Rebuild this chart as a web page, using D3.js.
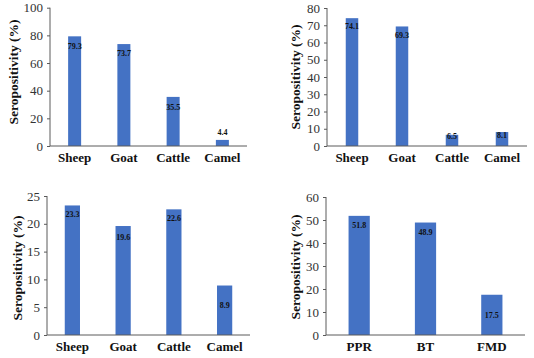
<!DOCTYPE html>
<html><head><meta charset="utf-8">
<script src="https://cdn.jsdelivr.net/npm/d3@7"></script>
<style>body{margin:0;background:#fff}svg{display:block}
svg text{font-family:"Liberation Serif","Times New Roman",Times,serif !important;}</style>
</head><body>
<svg id="c" width="534" height="358"></svg>
<script>
const species = ["Sheep", "Goat", "Cattle", "Camel"];
const diseases = ["PPR", "BT", "FMD"];
const valuesA = [79.3, 73.7, 35.5, 4.4];
const valuesB = [74.1, 69.3, 6.5, 8.1];
const valuesC = [23.3, 19.6, 22.6, 8.9];
const valuesD = [51.8, 48.9, 17.5];
const ticksA = [0, 20, 40, 60, 80, 100];
const ticksB = [0, 10, 20, 30, 40, 50, 60, 70, 80];
const ticksC = [0, 5, 10, 15, 20, 25];
const ticksD = [0, 10, 20, 30, 40, 50, 60];
const yTitle = "Seropositivity (%)";

// layout: label offsets (px below bar top; negative = above)
const panels = [
  {cats: species, vals: valuesA, ticks: ticksA, l: 50, r: 247, t: 7.7, b: 146, pad: 0.736, tx: 13, ty: 72, lab: [12.5, 12, 13, -5]},
  {cats: species, vals: valuesB, ticks: ticksB, l: 327, r: 527, t: 8, b: 146, pad: 0.75, tx: 295, ty: 77, lab: [11, 12, 4, 6]},
  {cats: species, vals: valuesC, ticks: ticksC, l: 47, r: 250, t: 196, b: 335, pad: 0.70, tx: 17, ty: 268, lab: [12, 14, 12, 22]},
  {cats: diseases, vals: valuesD, ticks: ticksD, l: 326, r: 525, t: 197, b: 335, pad: 0.68, tx: 295, ty: 267, lab: [12, 12, 23]}
];
const svg = d3.select("#c");

panels.forEach(p => {
  const g = svg.append("g");
  const x = d3.scaleBand().domain(p.cats).range([p.l, p.r]).paddingInner(p.pad).paddingOuter(p.pad / 2);
  const y = d3.scaleLinear().domain([0, d3.max(p.ticks)]).range([p.b, p.t]);

  const yAxis = g.append("g").attr("transform", `translate(${p.l},0)`)
    .call(d3.axisLeft(y).tickValues(p.ticks).tickSize(3).tickPadding(4).tickFormat(d3.format("d")));
  yAxis.select(".domain").attr("stroke", "#5a5a5a").attr("d", `M0,${p.t}V${p.b}`);
  yAxis.selectAll(".tick line").attr("stroke", "#5a5a5a");
  yAxis.selectAll(".tick text").attr("font-size", 13).attr("fill", "#333");

  g.selectAll("rect").data(p.vals).join("rect")
    .attr("x", (d, i) => x(p.cats[i]))
    .attr("width", x.bandwidth())
    .attr("y", d => y(d))
    .attr("height", d => p.b - y(d))
    .attr("fill", "#4472C4");

  const xAxis = g.append("g").attr("transform", `translate(0,${p.b})`)
    .call(d3.axisBottom(x).tickSize(0).tickPadding(7));
  xAxis.select(".domain").attr("stroke", "#5a5a5a").attr("d", `M${p.l},0H${p.r}`);
  xAxis.selectAll(".tick text").attr("font-size", 13)
    .attr("font-weight", "bold").attr("fill", "#111");

  g.selectAll("text.val").data(p.vals).join("text").attr("class", "val")
    .attr("x", (d, i) => x(p.cats[i]) + x.bandwidth() / 2)
    .attr("y", (d, i) => y(d) + p.lab[i])
    .attr("text-anchor", "middle")
    .attr("font-size", 8).attr("font-weight", "bold").attr("fill", "#111")
    .text(d => d);

  g.append("text")
    .attr("transform", `translate(${p.tx},${p.ty}) rotate(-90)`)
    .attr("text-anchor", "middle").attr("dominant-baseline", "central")
    .attr("font-size", 13.5).attr("font-weight", "bold").attr("fill", "#111")
    .text(yTitle);
});
</script>
</body></html>
